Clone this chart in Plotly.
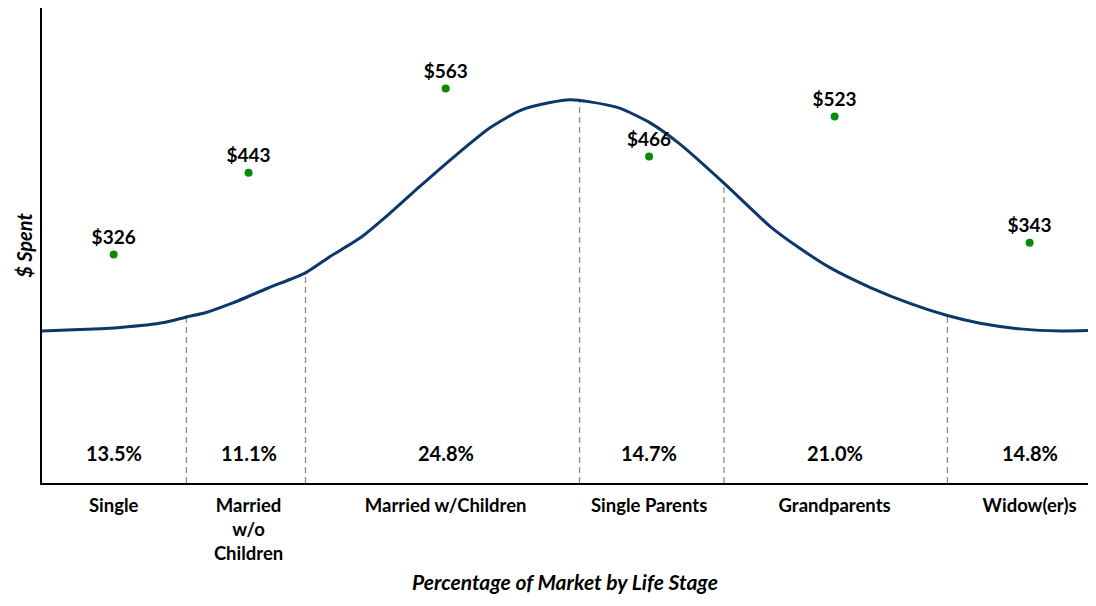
import plotly.graph_objects as go

# life stages, market share, spend
stages = ['Single', 'Married<br>w/o<br>Children', 'Married w/Children',
          'Single Parents', 'Grandparents', 'Widow(er)s']
share_labels = ['13.5%', '11.1%', '24.8%', '14.7%', '21.0%', '14.8%']
stage_x = [6.8, 19.6, 38.3, 57.6, 75.2, 93.7]
spent = [326, 443, 563, 466, 523, 343]
spent_labels = ['$326', '$443', '$563', '$466', '$523', '$343']

# bell curve
curve_x = [0, 3.6, 7.4, 11.6, 13.7, 15.5, 18.1, 21.4, 25.0, 27.3, 30.2, 33.0,
           35.9, 39.2, 42.5, 45.4, 48.2, 50.1, 52.0, 54.8, 57.7, 60.5, 64.7,
           69.1, 71.9, 74.8, 78.6, 82.4, 85.9, 89.0, 92.8, 96.6, 100]
curve_y = [217, 219, 222, 229, 237, 243, 257, 278, 300, 323, 350, 385,
           424, 467, 507, 532, 543, 547, 544, 535, 514, 484, 428,
           366, 335, 307, 279, 256, 239, 228, 220, 217, 218]

# boundaries between stages (dashed lines)
bound_x = [13.7, 25.0, 51.0, 64.7, 85.9]
bound_y = [237, 300, 546, 428, 239]

FONT = 'Lato'

fig = go.Figure()

for bx, by in zip(bound_x, bound_y):
    fig.add_trace(go.Scatter(x=[bx, bx], y=[0, by], mode='lines',
                             line=dict(color='#8c8c8c', width=1.3, dash='6px,4px'),
                             hoverinfo='skip'))

fig.add_trace(go.Scatter(x=curve_x, y=curve_y, mode='lines',
                         line=dict(color='#0b3868', width=3, shape='spline', smoothing=0.6)))

fig.add_trace(go.Scatter(x=stage_x, y=spent, mode='markers+text',
                         marker=dict(color='#0a8a0a', size=8),
                         text=spent_labels, textposition='top center',
                         textfont=dict(family=FONT, size=19, color='black', weight='bold')))

for sx, lab in zip(stage_x, share_labels):
    fig.add_annotation(x=sx, y=43, xref='x', yref='y', text=lab,
                       showarrow=False, yanchor='middle',
                       font=dict(family=FONT, size=20, color='black', weight='bold'))

# x axis title
fig.add_annotation(x=0.5, y=-0.236, xref='paper', yref='paper',
                   text='Percentage of Market by Life Stage', showarrow=False,
                   yanchor='bottom', borderpad=0,
                   font=dict(family=FONT, size=21, color='black', weight='bold', style='italic'))

fig.update_layout(
    width=1080, height=590,
    showlegend=False,
    plot_bgcolor='white',
    paper_bgcolor='white',
    margin=dict(l=34, r=0, t=0, b=115),
    xaxis=dict(
        range=[0, 99.24], automargin=False,
        showgrid=False, zeroline=False,
        showline=True, linecolor='black', linewidth=2,
        tickvals=stage_x, ticktext=stages, ticks='',
        ticklabelstandoff=5,
        tickfont=dict(family=FONT, size=18.5, color='black', weight='bold'),
    ),
    yaxis=dict(
        range=[0, 678], automargin=False,
        showgrid=False, zeroline=False,
        showline=True, linecolor='black', linewidth=2,
        showticklabels=False, ticks='',
        title=dict(text='$ Spent', standoff=2,
                   font=dict(family=FONT, size=20, color='black', weight='bold', style='italic')),
    ),
)

fig.write_html('out.html')
